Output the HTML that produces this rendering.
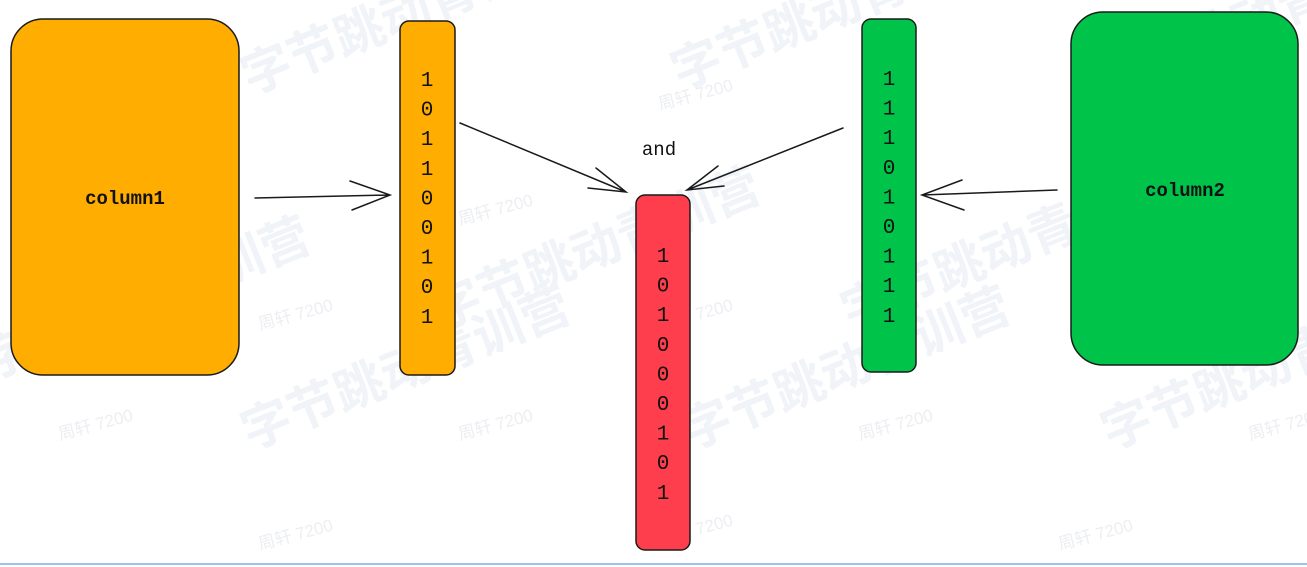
<!DOCTYPE html>
<html><head><meta charset="utf-8"><style>
html,body{margin:0;padding:0;background:#fff;}
svg{display:block;}
.d{font-family:"Liberation Mono",monospace;font-size:21px;fill:#111;text-anchor:middle;}
.wm{font-family:"Liberation Sans","Noto Sans CJK SC",sans-serif;font-weight:bold;font-size:50px;fill:#f0f3f8;}
.wm2{font-family:"Liberation Sans","Noto Sans CJK SC",sans-serif;font-size:17px;fill:#eceef2;}
</style></head><body>
<svg width="1307" height="567" viewBox="0 0 1307 567">
<g>
<text class="wm" transform="translate(250,95) rotate(-22)">字节跳动青训营</text>
<text class="wm" transform="translate(680,90) rotate(-22)">字节跳动青训营</text>
<text class="wm" transform="translate(1100,100) rotate(-22)">字节跳动青训营</text>
<text class="wm" transform="translate(-10,380) rotate(-22)">字节跳动青训营</text>
<text class="wm" transform="translate(440,330) rotate(-22)">字节跳动青训营</text>
<text class="wm" transform="translate(850,330) rotate(-22)">字节跳动青训营</text>
<text class="wm" transform="translate(250,450) rotate(-22)">字节跳动青训营</text>
<text class="wm" transform="translate(690,450) rotate(-22)">字节跳动青训营</text>
<text class="wm" transform="translate(1110,450) rotate(-22)">字节跳动青训营</text>
<text class="wm2" transform="translate(660,110) rotate(-15)">周轩 7200</text>
<text class="wm2" transform="translate(460,225) rotate(-15)">周轩 7200</text>
<text class="wm2" transform="translate(260,330) rotate(-15)">周轩 7200</text>
<text class="wm2" transform="translate(660,330) rotate(-15)">周轩 7200</text>
<text class="wm2" transform="translate(60,440) rotate(-15)">周轩 7200</text>
<text class="wm2" transform="translate(460,440) rotate(-15)">周轩 7200</text>
<text class="wm2" transform="translate(860,440) rotate(-15)">周轩 7200</text>
<text class="wm2" transform="translate(1250,440) rotate(-15)">周轩 7200</text>
<text class="wm2" transform="translate(260,550) rotate(-15)">周轩 7200</text>
<text class="wm2" transform="translate(660,545) rotate(-15)">周轩 7200</text>
<text class="wm2" transform="translate(1060,550) rotate(-15)">周轩 7200</text>
</g>
<rect x="11" y="19" width="228" height="356" rx="32" fill="#ffad00" stroke="#1a1a1a" stroke-width="1.5"/>
<text x="125" y="204" class="d" style="font-weight:bold;font-size:19px">column1</text>
<rect x="1071" y="12" width="227" height="353" rx="32" fill="#00c44a" stroke="#1a1a1a" stroke-width="1.5"/>
<text x="1185" y="196" class="d" style="font-weight:bold;font-size:19px">column2</text>
<rect x="400" y="21" width="55" height="354" rx="9" fill="#ffad00" stroke="#1a1a1a" stroke-width="1.5"/>
<rect x="862" y="19" width="54" height="353" rx="9" fill="#00c44a" stroke="#1a1a1a" stroke-width="1.5"/>
<rect x="636" y="195" width="54" height="355" rx="9" fill="#ff3e4d" stroke="#1a1a1a" stroke-width="1.5"/>
<g id="digits"></g>
<text x="659" y="155" class="d" style="font-size:19px">and</text>
<g fill="none" stroke="#1a1a1a" stroke-width="1.5" stroke-linecap="round">
<path d="M255 198 L390 195 M350 181 L390 195 L352 210"/>
<path d="M460 123 L626 192 M596 168 L626 192 L588 188"/>
<path d="M843 128 L687 190 M718 166 L687 190 L724 186"/>
<path d="M1057 190 L922 195 M962 180 L922 195 L964 210"/>
</g>
<rect x="0" y="563" width="1307" height="2" fill="#9cc3f5"/>
</svg>
<script>
const bits1=[1,0,1,1,0,0,1,0,1];
const bits2=[1,1,1,0,1,0,1,1,1];
const bitsAnd=[1,0,1,0,0,0,1,0,1];
const g=document.getElementById('digits');
function col(arr,x,y0,name){arr.forEach((b,i)=>{const t=document.createElementNS('http://www.w3.org/2000/svg','text');
t.setAttribute('x',x);t.setAttribute('y',y0+i*29.6+7);t.setAttribute('class','d');


t.textContent=b;g.appendChild(t);});}
col(bits1,427,79);col(bits2,889,78);col(bitsAnd,663,255);
</script>
</body></html>
